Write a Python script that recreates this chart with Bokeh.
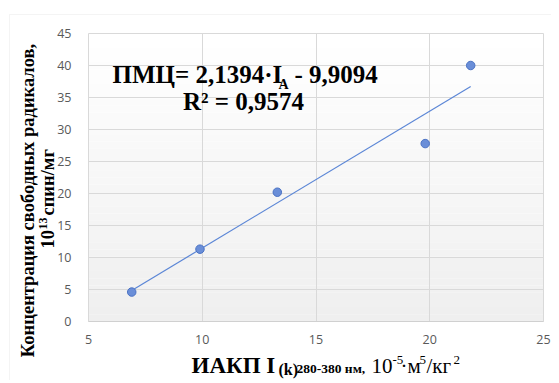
import math
from bokeh.plotting import figure
from bokeh.models import Range1d, FixedTicker, Label, BoxAnnotation
from bokeh.embed import file_html
from bokeh.resources import INLINE

# ---- data ----
iakp = [6.9, 9.9, 13.3, 19.8, 21.8]
pmc = [4.6, 11.3, 20.2, 27.8, 40.0]
x_ticks = [5, 10, 15, 20, 25]
y_ticks = [0, 5, 10, 15, 20, 25, 30, 35, 40, 45]
slope = 2.1394
intercept = -9.9094
eq_main = "ПМЦ= 2,1394·I"
eq_sub = "A"
eq_tail = "- 9,9094"
r2_text = "R² = 0,9574"
ylab1 = "Концентрация свободных радикалов,"
ylab2a, ylab2b, ylab2c = "10", "13", " спин/мг"
xlab_a, xlab_b, xlab_c = "ИАКП I", "(k)", " 280-380 нм,"
xlab_d, xlab_e, xlab_f, xlab_g, xlab_h, xlab_i = "10", "-5", "·м", "5", "/кг", "2"

# ---- layout: canvas pixels -> data ----
W, H = 551, 380
FL, FT, FW, FH = 88, 33, 455, 288
XMIN, XMAX, YMIN, YMAX = 5, 25, 0, 45


def X(px):
    return XMIN + (px - FL) * (XMAX - XMIN) / FW


def Y(py):
    return YMIN + (FT + FH - py) * (YMAX - YMIN) / FH


p = figure(width=W, height=H, min_border=0,
           x_range=Range1d(X(0), X(W)), y_range=Range1d(Y(H), Y(0)),
           output_backend="svg", toolbar_location=None)
p.outline_line_color = None
p.background_fill_color = "white"
p.border_fill_color = "white"

# gradient plot-area background
n = 40
for i in range(n):
    t = i / (n - 1)
    c = int(round(0xef + (0xff - 0xef) * t))
    col = "#%02x%02x%02x" % (c, c, c)
    p.add_layout(BoxAnnotation(left=XMIN, right=XMAX,
                               bottom=YMIN + (YMAX - YMIN) * i / n, top=YMIN + (YMAX - YMIN) * (i + 1) / n,
                               fill_color=col, fill_alpha=1, line_color=None, level="image"))

# outer chart border
p.add_layout(BoxAnnotation(left=X(9), top=Y(14), right=X(900), bottom=Y(900),
                           fill_alpha=0, line_color="#d9d9d9", line_width=1, level="underlay"))

for ax in (p.xaxis[0], p.yaxis[0]):
    ax.major_tick_line_color = None
    ax.minor_tick_line_color = None
    ax.major_label_text_font = "Open Sans"
    ax.major_label_text_font_size = "12.5px"
    ax.major_label_text_color = "#595959"
p.xaxis.ticker = FixedTicker(ticks=x_ticks)
p.yaxis.ticker = FixedTicker(ticks=y_ticks)
p.xaxis.fixed_location = YMIN
p.yaxis.fixed_location = XMIN
p.xaxis.bounds = (XMIN, XMAX)
p.yaxis.bounds = (YMIN, YMAX)
p.xaxis.axis_line_color = "#d0d0d0"
p.yaxis.axis_line_color = None
p.xaxis.major_label_standoff = 7
p.yaxis.major_label_standoff = 11

p.xgrid.ticker = FixedTicker(ticks=x_ticks)
p.ygrid.ticker = FixedTicker(ticks=y_ticks)
p.xgrid.bounds = (XMIN, XMAX)
p.xgrid.cross_bounds = (YMIN, YMAX)
p.ygrid.bounds = (YMIN, YMAX)
p.ygrid.cross_bounds = (XMIN, XMAX)
p.grid.grid_line_color = "#d9d9d9"
p.grid.grid_line_width = 1

# trend line and points
xs = [min(iakp), max(iakp)]
ys = [slope * v + intercept for v in xs]
p.line(xs, ys, line_color="#5b86d6", line_width=1.2)
p.scatter(iakp, pmc, size=8.5, fill_color="#6a8ed8", line_color="#4a72c4", line_width=1)

SERIF = "Liberation Serif"
K = 0.3  # empirical baseline correction (fraction of font size)


def lab(text, px, py, size, bold=True, align="left", angle=0.0):
    if angle == 0.0:
        py = py - K * size
    else:
        px = px - K * size
    p.add_layout(Label(x=X(px), y=Y(py), text=text, text_font=SERIF, text_font_size="%gpx" % size,
                       text_font_style="bold" if bold else "normal", text_color="black",
                       text_align=align, text_baseline="alphabetic", angle=angle))


# equation
lab(eq_main, 112, 81, 25)
lab(eq_sub, 278, 88, 14)
lab(eq_tail, 294, 81, 25)
lab(r2_text, 243, 108, 25, align="center")

# y axis title (rotated)
A = math.pi / 2
lab(ylab1, 33, 200, 18.5, align="center", angle=A)
lab(ylab2a, 53, 248, 18.5, angle=A)
lab(ylab2b, 46, 229, 12, angle=A)
lab(ylab2c, 53, 215, 18.5, angle=A)

# x axis title
lab(xlab_a, 191, 372, 23)
lab(xlab_b, 278, 374, 16)
lab(xlab_c, 296, 372, 13.5)
lab(xlab_d, 371, 372, 21, bold=False)
lab(xlab_e, 392, 363, 13, bold=False)
lab(xlab_f, 400, 372, 21, bold=False)
lab(xlab_g, 419, 363, 13, bold=False)
lab(xlab_h, 426, 372, 21, bold=False)
lab(xlab_i, 453, 363, 13, bold=False)

open("out.html", "w").write(file_html(p, INLINE))
